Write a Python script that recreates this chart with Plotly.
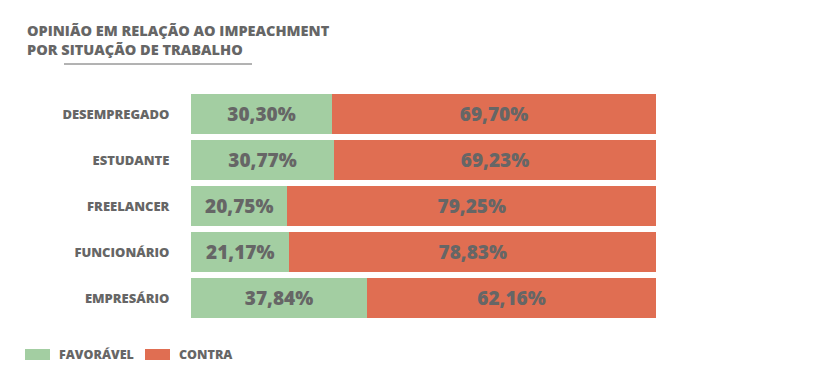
import plotly.graph_objects as go

categories = ["DESEMPREGADO", "ESTUDANTE", "FREELANCER", "FUNCIONÁRIO", "EMPRESÁRIO"]
favoravel = [30.30, 30.77, 20.75, 21.17, 37.84]
contra = [69.70, 69.23, 79.25, 78.83, 62.16]
series_names = ["FAVORÁVEL", "CONTRA"]

GREEN = "#a3cea2"
RED = "#e06e52"
GREY = "#666666"
FONT = "Open Sans"

OFF = 8  # page body margin
W, H = 820 - OFF, 384 - OFF
# plot area in page pixels
PL, PR, PT, PB = 191, 656, 91, 321
L, R, T, B = PL - OFF, PR - OFF, PT - OFF, PB - OFF


def px(x):
    return (x - PL) / (PR - PL)


def py(y):
    return (PB - y) / (PB - PT)


fig = go.Figure()
for name, vals, col in [(series_names[0], favoravel, GREEN), (series_names[1], contra, RED)]:
    fig.add_trace(go.Bar(
        y=categories, x=vals, name=name, orientation="h",
        marker=dict(color=col, line=dict(width=0)),
        texttemplate="%{x:.2f}%", textposition="inside", insidetextanchor="middle",
        textfont=dict(family=FONT, size=19, color=GREY, weight=800),
        showlegend=False, hoverinfo="skip",
    ))

shapes = [
    # title underline
    dict(type="line", xref="paper", yref="paper", x0=px(64), x1=px(252), y0=py(64), y1=py(64),
         line=dict(color=GREY, width=1)),
    # legend swatches
    dict(type="rect", xref="paper", yref="paper", x0=px(25), x1=px(50), y0=py(360), y1=py(349),
         fillcolor=GREEN, line=dict(width=0)),
    dict(type="rect", xref="paper", yref="paper", x0=px(145), x1=px(170), y0=py(360), y1=py(349),
         fillcolor=RED, line=dict(width=0)),
]

annotations = [
    dict(text=series_names[0], xref="paper", yref="paper", x=px(57), y=py(354.5), xanchor="left",
         yanchor="middle", showarrow=False, font=dict(family=FONT, size=12.5, color=GREY, weight=800)),
    dict(text=series_names[1], xref="paper", yref="paper", x=px(177), y=py(354.5), xanchor="left",
         yanchor="middle", showarrow=False, font=dict(family=FONT, size=12.5, color=GREY, weight=800)),
]

fig.update_layout(
    width=W, height=H,
    barmode="stack", bargap=0.13,
    separators=",.",
    margin=dict(l=L, r=W - R, t=T, b=H - B, pad=0),
    paper_bgcolor="white", plot_bgcolor="white",
    title=dict(text="OPINIÃO EM RELAÇÃO AO IMPEACHMENT<br>POR SITUAÇÃO DE TRABALHO",
               xref="container", yref="container", x=(27 - OFF) / W, xanchor="left",
               y=1 - (36 - OFF) / H, yanchor="top",
               font=dict(family=FONT, size=14.5, color=GREY, weight=800)),
    xaxis=dict(range=[0, 100], visible=False, showgrid=False, zeroline=False, fixedrange=True),
    yaxis=dict(autorange="reversed", showgrid=False, zeroline=False, showline=False,
               ticks="outside", ticklen=18, tickcolor="rgba(0,0,0,0)",
               tickfont=dict(family=FONT, size=13, color=GREY, weight=800)),
    shapes=shapes, annotations=annotations,
    showlegend=False,
)

fig.write_html("out.html")
